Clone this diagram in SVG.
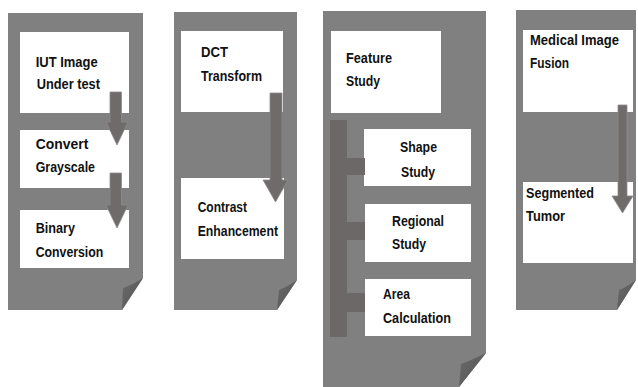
<svg xmlns="http://www.w3.org/2000/svg" width="638" height="387" viewBox="0 0 638 387">
<defs>
<linearGradient id="flapGrad" x1="0" y1="0" x2="1" y2="1">
<stop offset="0" stop-color="#6b6b6b"/>
<stop offset="1" stop-color="#525252"/>
</linearGradient>
<style>
.panel{fill:#808080;}
.flap{fill:url(#flapGrad);}
.box{fill:#ffffff;}
.lbl{font-family:"Liberation Sans",Arial,sans-serif;font-weight:bold;font-size:15px;fill:#111;}
.arrow{fill:#6f6b6b;stroke:#8e8b8b;stroke-width:0.8;}
.bar{fill:#6d6868;}
</style>
</defs>
<rect width="638" height="387" fill="#ffffff"/>

<g id="panel-1">
<path class="panel" d="M8,13 H143 V278 L122,310 H8 Z"/>
<path class="flap" d="M143,278 Q132,285 123,288 L122,310 Z"/>
</g>
<g id="panel-2">
<path class="panel" d="M174,12 H297 V280 L277,310 H174 Z"/>
<path class="flap" d="M297,280 Q287,287 279,290 L277,310 Z"/>
</g>
<g id="panel-3">
<path class="panel" d="M323,11 H486 V353 L459,387 H323 Z"/>
<path class="flap" d="M486,353 Q472,360 461,364 L459,387 Z"/>
</g>
<g id="panel-4">
<path class="panel" d="M516,10 H636 V280 L617,310 H516 Z"/>
<path class="flap" d="M636,280 Q627,287 619,290 L617,310 Z"/>
</g>

<g id="iut-image">
<rect class="box" x="20" y="32" width="109" height="81"/>
<text class="lbl" x="35.7" y="66.7" textLength="62" lengthAdjust="spacingAndGlyphs">IUT Image</text>
<text class="lbl" x="36.7" y="89" textLength="63.3" lengthAdjust="spacingAndGlyphs">Under test</text>
</g>
<g id="convert-grayscale">
<rect class="box" x="20" y="130" width="109" height="58"/>
<text class="lbl" x="35.7" y="149" textLength="52.6" lengthAdjust="spacingAndGlyphs">Convert</text>
<text class="lbl" x="35.7" y="171.7" textLength="59.3" lengthAdjust="spacingAndGlyphs">Grayscale</text>
</g>
<g id="binary-conversion">
<rect class="box" x="20" y="210" width="109" height="58"/>
<text class="lbl" x="35.7" y="233" textLength="39.3" lengthAdjust="spacingAndGlyphs">Binary</text>
<text class="lbl" x="35.7" y="257" textLength="67.6" lengthAdjust="spacingAndGlyphs">Conversion</text>
</g>

<g id="dct-transform">
<rect class="box" x="181" y="31" width="102" height="81"/>
<text class="lbl" x="201" y="56.7" textLength="27" lengthAdjust="spacingAndGlyphs">DCT</text>
<text class="lbl" x="201" y="80.7" textLength="61" lengthAdjust="spacingAndGlyphs">Transform</text>
</g>
<g id="contrast-enhancement">
<rect class="box" x="181" y="178" width="103" height="81"/>
<text class="lbl" x="197.7" y="212.3" textLength="49.3" lengthAdjust="spacingAndGlyphs">Contrast</text>
<text class="lbl" x="197.7" y="236" textLength="80.3" lengthAdjust="spacingAndGlyphs">Enhancement</text>
</g>

<g id="feature-study">
<rect class="box" x="331" y="31" width="110" height="82"/>
<text class="lbl" x="346" y="63.3" textLength="46" lengthAdjust="spacingAndGlyphs">Feature</text>
<text class="lbl" x="346" y="86" textLength="34" lengthAdjust="spacingAndGlyphs">Study</text>
</g>
<g id="shape-study">
<rect class="box" x="364" y="129" width="107" height="57"/>
<text class="lbl" x="400" y="152.3" textLength="37" lengthAdjust="spacingAndGlyphs">Shape</text>
<text class="lbl" x="401" y="176.7" textLength="34" lengthAdjust="spacingAndGlyphs">Study</text>
</g>
<g id="regional-study">
<rect class="box" x="365" y="204" width="106" height="58"/>
<text class="lbl" x="392" y="226" textLength="52" lengthAdjust="spacingAndGlyphs">Regional</text>
<text class="lbl" x="392" y="249.3" textLength="34" lengthAdjust="spacingAndGlyphs">Study</text>
</g>
<g id="area-calculation">
<rect class="box" x="365" y="279" width="106" height="57"/>
<text class="lbl" x="383" y="299.3" textLength="27" lengthAdjust="spacingAndGlyphs">Area</text>
<text class="lbl" x="383" y="323.3" textLength="68" lengthAdjust="spacingAndGlyphs">Calculation</text>
</g>

<g id="medical-image-fusion">
<rect class="box" x="523" y="30" width="110" height="82"/>
<text class="lbl" x="530" y="45" textLength="89" lengthAdjust="spacingAndGlyphs">Medical Image</text>
<text class="lbl" x="530" y="68.3" textLength="39" lengthAdjust="spacingAndGlyphs">Fusion</text>
</g>
<g id="segmented-tumor">
<rect class="box" x="523" y="182" width="110" height="81"/>
<text class="lbl" x="526" y="198" textLength="68" lengthAdjust="spacingAndGlyphs">Segmented</text>
<text class="lbl" x="526" y="221" textLength="39" lengthAdjust="spacingAndGlyphs">Tumor</text>
</g>

<g id="connectors">
<path class="arrow" d="M110,92 H121.5 V122 H128 L117,145 L106,122 H110 Z"/>
<path class="arrow" d="M110,173 H121.5 V205 H128 L117,228 L106,205 H110 Z"/>
<path class="arrow" d="M270,93 H282 V180 H288 L275.5,202 L263,180 H270 Z"/>
<path class="arrow" d="M618,105 H627 V196 H633 L622.5,213 L612,196 H618 Z"/>
<path class="bar" d="M330,120 H347 V158 H365 V175 H347 V222 H365 V240 H347 V293 H365 V312 H347 V337 H330 Z"/>
</g>
</svg>
